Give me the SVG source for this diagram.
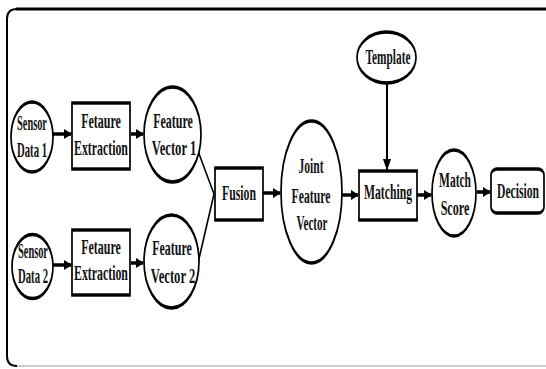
<svg xmlns="http://www.w3.org/2000/svg" width="546" height="369" viewBox="0 0 546 369">
<style>
.shape{fill:#fff;stroke:#000;stroke-width:1.7}
.t{font-family:"Liberation Serif","Times New Roman",serif;font-weight:bold;font-size:21px;fill:#111;text-anchor:middle}
.t2{font-size:22px}
.arr{stroke:#000;stroke-width:3.5;fill:none}
.thin{stroke:#000;stroke-width:1.6;fill:none}
</style>
<defs>
<marker id="ah" markerUnits="userSpaceOnUse" markerWidth="8" markerHeight="10" refX="7" refY="5" orient="auto">
<path d="M0,0 L8,5 L0,10 z" fill="#000"/>
</marker>
<marker id="ah2" markerUnits="userSpaceOnUse" markerWidth="8" markerHeight="12" refX="11" refY="4" orient="auto">
<path d="M0,0 L12,4 L0,8 z" fill="#000"/>
</marker>
</defs>
<rect width="546" height="369" fill="#fff"/>
<g id="frame">
<path d="M17,366 L546,366" stroke="#bdbdbd" stroke-width="1.5" fill="none"/>
<path d="M17,366 Q7,366 7,356 L7,19 Q7,9 17,9" stroke="#000" stroke-width="2" fill="none"/>
<path d="M16,9 L546,9" stroke="#000" stroke-width="3.2" fill="none"/>
</g>
<g id="connectors">
<line class="arr" x1="53" y1="134" x2="71" y2="134" marker-end="url(#ah)"/>
<line class="arr" x1="131" y1="134" x2="143" y2="134" marker-end="url(#ah)"/>
<line class="arr" x1="53" y1="265" x2="71" y2="265" marker-end="url(#ah)"/>
<line class="arr" x1="131" y1="263" x2="143" y2="263" marker-end="url(#ah)"/>
<polyline class="thin" points="198,151 214,194 198,263"/>
<line class="arr" x1="263" y1="193" x2="280" y2="193" marker-end="url(#ah)"/>
<line class="arr" x1="342" y1="195" x2="358" y2="195" marker-end="url(#ah)"/>
<line class="arr" x1="417" y1="195" x2="431" y2="195" marker-end="url(#ah)"/>
<line class="arr" x1="477" y1="192" x2="490" y2="192" marker-end="url(#ah)"/>
<line stroke="#000" stroke-width="2" x1="387" y1="84" x2="387" y2="170" marker-end="url(#ah2)"/>
</g>
<g id="sensor1">
<ellipse class="shape" transform="scale(1,2)" cx="32" cy="68.5" rx="21" ry="17.5"/>
<text class="t" transform="translate(32,130) scale(0.494,1)">Sensor</text>
<text class="t" transform="translate(32,157) scale(0.509,1)">Data 1</text>
</g>
<g id="extract1">
<rect class="shape" transform="scale(1,2)" x="72" y="51.5" width="58" height="33"/>
<text class="t" transform="translate(101,128) scale(0.571,1)">Fetaure</text>
<text class="t" transform="translate(101,155) scale(0.564,1)">Extraction</text>
</g>
<g id="vector1">
<ellipse class="shape" transform="scale(1,2)" cx="172.5" cy="67.25" rx="28.5" ry="23.75"/>
<text class="t" transform="translate(173,128) scale(0.571,1)">Feature</text>
<text class="t" transform="translate(174,155) scale(0.602,1)">Vector 1</text>
</g>
<g id="sensor2">
<ellipse class="shape" transform="scale(1,2)" cx="32.5" cy="133.25" rx="20.5" ry="16"/>
<text class="t" transform="translate(33,258) scale(0.494,1)">Sensor</text>
<text class="t" transform="translate(33,283) scale(0.509,1)">Data 2</text>
</g>
<g id="extract2">
<rect class="shape" transform="scale(1,2)" x="72" y="115" width="58" height="32.5"/>
<text class="t" transform="translate(101,254) scale(0.571,1)">Fetaure</text>
<text class="t" transform="translate(101,280) scale(0.564,1)">Extraction</text>
</g>
<g id="vector2">
<ellipse class="shape" transform="scale(1,2)" cx="171.5" cy="130.75" rx="27.5" ry="23.25"/>
<text class="t" transform="translate(172,255) scale(0.571,1)">Feature</text>
<text class="t" transform="translate(173,283) scale(0.602,1)">Vector 2</text>
</g>
<g id="fusion">
<rect class="shape" transform="scale(1,2)" x="215" y="84" width="48" height="26"/>
<text class="t t2" transform="translate(239,200) scale(0.535,1)">Fusion</text>
</g>
<g id="joint">
<ellipse class="shape" transform="scale(1,2)" cx="311.5" cy="96" rx="30.5" ry="35.5"/>
<text class="t t2" transform="translate(311,173) scale(0.524,1)">Joint</text>
<text class="t t2" transform="translate(311,203) scale(0.532,1)">Feature</text>
<text class="t t2" transform="translate(312,230) scale(0.504,1)">Vector</text>
</g>
<g id="template">
<ellipse class="shape" transform="scale(1,2)" cx="386.5" cy="28.75" rx="29.5" ry="12.75"/>
<text class="t t2" transform="translate(388,64) scale(0.516,1)">Template</text>
</g>
<g id="matching">
<rect class="shape" transform="scale(1,2)" x="359" y="85.5" width="58" height="24.5"/>
<text class="t t2" transform="translate(388,199) scale(0.531,1)">Matching</text>
</g>
<g id="score">
<ellipse class="shape" transform="scale(1,2)" cx="454" cy="96.5" rx="22" ry="21.5"/>
<text class="t t2" transform="translate(455,187) scale(0.524,1)">Match</text>
<text class="t t2" transform="translate(455,215) scale(0.552,1)">Score</text>
</g>
<g id="decision">
<rect class="shape" transform="scale(1,2)" x="491" y="84.5" width="53" height="22" rx="6" ry="3"/>
<text class="t t2" transform="translate(518,198) scale(0.529,1)">Decision</text>
</g>
</svg>
